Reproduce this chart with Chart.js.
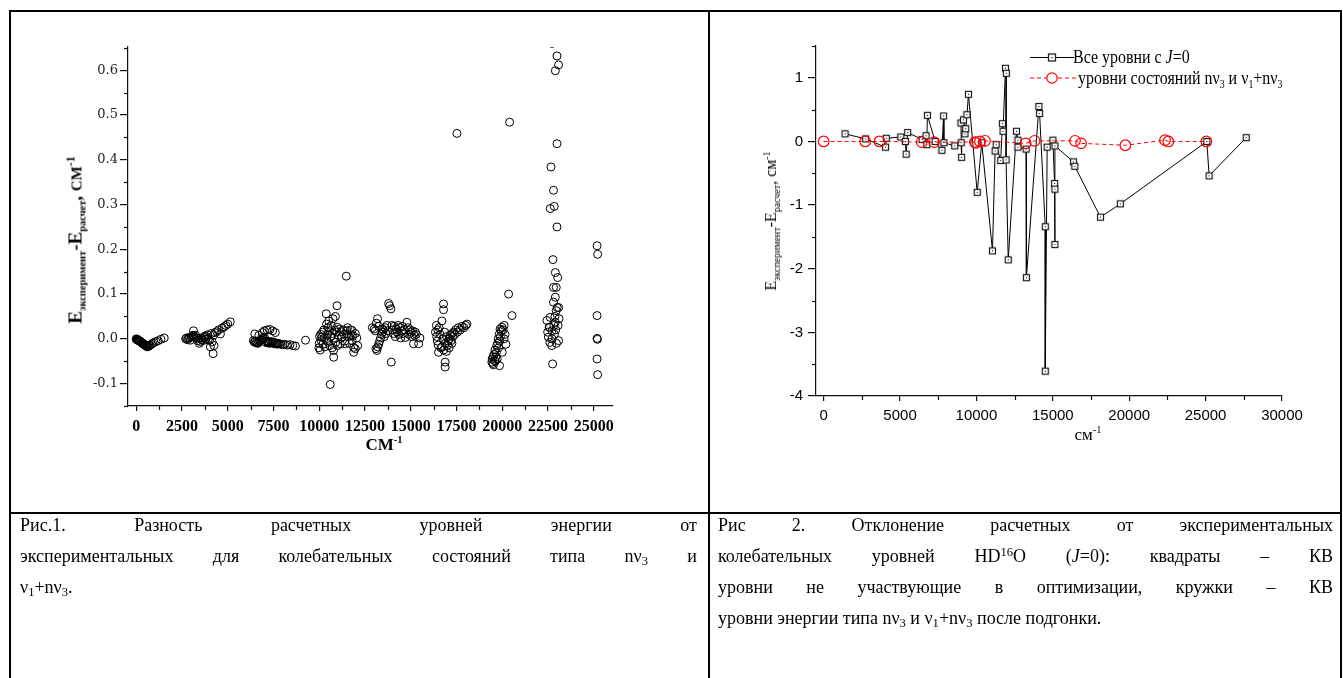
<!DOCTYPE html>
<html><head><meta charset="utf-8">
<script src="https://cdn.jsdelivr.net/npm/chart.js@4/dist/chart.umd.min.js"></script>
<style>
html,body{margin:0;padding:0;background:#fff;}
body{width:1343px;height:678px;position:relative;overflow:hidden;font-family:"Liberation Serif",serif;color:#000;}
.ln{position:absolute;background:#000;}
canvas{position:absolute;}
.t{position:absolute;white-space:nowrap;line-height:1;}
.t sub{font-size:55%;vertical-align:-0.4em;line-height:0;}
.t sup{font-size:62%;vertical-align:0.6em;line-height:0;}
.cap{position:absolute;font-size:18px;}
.cap div{height:31px;line-height:31px;white-space:nowrap;}
.cap div.j{text-align:justify;text-align-last:justify;white-space:normal;}
.cap sub{font-size:70%;vertical-align:-0.25em;line-height:0;}
.cap sup{font-size:70%;vertical-align:0.45em;line-height:0;}
.leg{position:absolute;white-space:nowrap;font-size:19px;line-height:1;transform-origin:0 50%;transform:scaleX(0.84);}
.leg sub{font-size:62%;vertical-align:-0.3em;line-height:0;}
svg{position:absolute;}
</style></head><body>

<!-- table borders -->
<div class="ln" style="left:9px;top:10px;width:1333px;height:2px"></div>
<div class="ln" style="left:9px;top:10px;width:2px;height:668px"></div>
<div class="ln" style="left:708px;top:10px;width:2px;height:668px"></div>
<div class="ln" style="left:1340px;top:10px;width:2px;height:668px"></div>
<div class="ln" style="left:9px;top:512px;width:1333px;height:2px"></div>

<canvas id="c1" width="696" height="500" style="left:11px;top:12px"></canvas>
<canvas id="c2" width="628" height="500" style="left:711px;top:12px"></canvas>

<!-- chart 1 axis titles -->
<div class="t" style="left:75px;top:240px;transform:translate(-50%,-50%) rotate(-90deg);font-weight:bold;font-size:19px;">E<sub>эксперимент</sub>-E<sub>расчет</sub>, <span style="font-size:15px">СМ</span><sup>-1</sup></div>
<div class="t" style="left:384px;top:444px;transform:translate(-50%,-50%);font-weight:bold;font-size:17px;">СМ<sup>-1</sup></div>

<!-- chart 2 axis titles -->
<div class="t" style="left:771px;top:221px;transform:translate(-50%,-50%) rotate(-90deg);font-size:16px;">E<sub style="font-size:62%">эксперимент</sub>-E<sub style="font-size:62%">расчет</sub>, см<sup>-1</sup></div>
<div class="t" style="left:1088px;top:434px;transform:translate(-50%,-50%);font-size:17px;">см<sup>-1</sup></div>

<!-- chart 2 legend -->
<svg style="left:1030px;top:51px" width="44" height="13">
  <line x1="0" y1="6.5" x2="44" y2="6.5" stroke="#000" stroke-width="1"/>
  <rect x="18.5" y="3" width="7" height="7" fill="#fff" stroke="#222" stroke-width="1.3"/>
  <rect x="21.5" y="6" width="1.2" height="1.2" fill="#000"/>
</svg>
<div class="leg" style="left:1073px;top:47px;">Все уровни с <i>J</i>=0</div>
<svg style="left:1030px;top:71px" width="48" height="14">
  <line x1="0" y1="7" x2="48" y2="7" stroke="#f00" stroke-width="1" stroke-dasharray="4,3"/>
  <circle cx="22" cy="7" r="5.2" fill="#fff" stroke="#f00" stroke-width="1.2"/>
</svg>
<div class="leg" style="left:1078px;top:68px;">уровни состояний nν<sub>3</sub> и ν<sub>1</sub>+nν<sub>3</sub></div>

<!-- captions -->
<div class="cap" style="left:20px;top:510px;width:677px;">
  <div class="j">Рис.1. Разность расчетных уровней энергии от</div>
  <div class="j">экспериментальных для колебательных состояний типа nν<sub>3</sub> и</div>
  <div>ν<sub>1</sub>+nν<sub>3</sub>.</div>
</div>
<div class="cap" style="left:718px;top:510px;width:615px;">
  <div class="j">Рис 2. Отклонение расчетных от экспериментальных</div>
  <div class="j">колебательных уровней HD<sup>16</sup>O (<i>J</i>=0): квадраты – КВ</div>
  <div class="j">уровни не участвующие в оптимизации, кружки – КВ</div>
  <div>уровни энергии типа nν<sub>3</sub> и ν<sub>1</sub>+nν<sub>3</sub> после подгонки.</div>
</div>

<script>
// ---------- Figure 1 data (E_exp - E_calc vs energy, cm^-1), grouped by polyad ----------
const grp1X = [0,20,40,60,80,100,120,140,160,180,200,230,260,290,320,350,380,410,440,480,520,560,600,650,700,760,830,900,980,1080,1200,1350,1530];
const grp1Y = [0,-0.001,-0.001,-0.002,-0.002,-0.003,-0.003,-0.004,-0.004,-0.005,-0.005,-0.006,-0.007,-0.008,-0.009,-0.01,-0.011,-0.012,-0.013,-0.014,-0.015,-0.016,-0.018,-0.017,-0.016,-0.014,-0.012,-0.01,-0.008,-0.006,-0.004,-0.001,0.002];

const grp2X = [2700,2750,2800,2850,2900,2950,3000,3050,3100,3130,3150,3200,3250,3300,3350,3400,3450,3500,3550,3600,3650,3700,3750,3800,3850,3900,3950,4000,4050,4100,4150,4200,4220,4250,4300,4400,4500,4600,4700,4800,4900,5000,5140];
const grp2Y = [0,0.002,-0.002,0.001,0.003,-0.003,0.004,0.005,0.008,0.018,0.006,0.003,0.008,0.002,-0.004,0.001,-0.01,-0.006,0.002,-0.002,-0.004,0.003,0.006,-0.001,0.005,0.009,0.001,-0.003,-0.018,0.012,-0.007,-0.033,0.008,-0.015,0.014,0.016,0.02,0.011,0.024,0.027,0.03,0.033,0.038];

const grp3X = [6400,6450,6500,6550,6600,6650,6700,6750,6800,6850,6900,6950,7000,7050,7100,7150,7200,7250,7300,7350,7400,7450,7500,7550,7600,7650,7700,7750,7800,7900,8000,8100,8250,8400,8550,8700,6480,6700,6900,7000,7150,7300,7450,7600,9250];
const grp3Y = [-0.004,-0.007,-0.006,-0.009,-0.008,-0.01,-0.007,-0.005,-0.004,-0.002,0,0.002,0.004,-0.006,-0.008,-0.005,-0.009,-0.007,-0.01,-0.006,-0.008,-0.009,-0.007,-0.011,-0.009,-0.01,-0.012,-0.01,-0.011,-0.012,-0.013,-0.012,-0.014,-0.013,-0.015,-0.016,0.011,0.008,0.014,0.018,0.02,0.021,0.018,0.014,-0.003];

const grp4X = [9980,10000,10020,10050,10080,10100,10150,10180,10200,10250,10280,10300,10380,10400,10420,10450,10480,10500,10520,10550,10580,10600,10620,10650,10700,10720,10750,10780,10790,10800,10850,10880,10900,10950,10970,10980,11000,11050,11100,11150,11200,11240,11300,11350,11400,11420,11475,11500,11515,11550,11600,11650,11700,11750,11790,11790,11840,11880,11880,11970,11970,12050,12100];
const grp4Y = [-0.02,-0.01,0.005,-0.025,0.01,-0.004,0.004,0.015,-0.012,0.02,0.002,-0.018,0.056,0.033,-0.004,0.01,0.025,-0.008,0.04,0.018,-0.015,-0.102,0.005,0.03,-0.02,0.012,0.045,-0.026,-0.041,0.002,0.02,0.05,-0.008,0.015,0.074,0.026,-0.015,0.008,0.022,-0.011,0.016,0.004,0.02,0.01,-0.005,-0.011,0.14,0.018,0.011,0.025,0.005,-0.01,0.02,0.008,0.019,-0.004,0.007,-0.019,-0.03,-0.022,0.012,0.002,-0.015];

const grp5X = [12900,13000,13060,13100,13120,13150,13185,13200,13250,13250,13300,13350,13400,13450,13450,13500,13550,13600,13650,13700,13750,13790,13845,13920,13935,13970,14000,14050,14100,14150,14200,14250,14300,14350,14400,14450,14500,14550,14600,14650,14700,14790,14850,14900,14950,15000,15050,15100,15150,15200,15250,15300,15430,15500];
const grp5Y = [0.025,0.022,0.018,-0.022,0.035,-0.026,0.045,-0.018,-0.012,0.028,-0.005,0.002,0.01,0.015,0.022,0.02,0.005,0.025,0.012,0.03,0.018,0.079,0.074,0.067,-0.052,0.03,0.02,0.012,0.028,0.005,0.022,0.015,0.03,0.01,0.025,0.002,0.018,0.028,0.012,0.02,0.003,0.037,0.025,0.01,0.02,0.015,0.005,0.018,-0.011,0.008,0.015,0.01,-0.011,0.002];

const grp6X = [16350,16400,16420,16450,16480,16500,16520,16550,16600,16650,16700,16700,16750,16790,16790,16800,16850,16880,16880,16900,16950,16950,17000,17050,17100,17100,17150,17200,17250,17250,17300,17350,17400,17450,17525,17550,17600,17700,17800,17900,18000,18070];
const grp6Y = [0.015,0.03,0.005,-0.005,0.02,-0.014,-0.03,0.025,0.01,-0.02,0.04,-0.018,0.0,0.078,0.065,-0.025,0.015,-0.052,-0.063,-0.01,0.005,-0.028,-0.015,-0.005,0.0,-0.02,0.008,-0.004,0.012,-0.01,0.005,0.015,0.01,0.02,0.459,0.015,0.025,0.02,0.028,0.025,0.03,0.033];

const grp7X = [19430,19450,19480,19500,19520,19550,19580,19600,19620,19650,19680,19700,19720,19750,19780,19800,19830,19850,19850,19880,19900,19950,19980,20000,20050,20100,20100,20150,20200,20345,20400,20530];
const grp7Y = [-0.052,-0.045,-0.055,-0.04,-0.058,-0.035,-0.048,-0.025,-0.05,-0.04,-0.03,-0.015,-0.045,-0.01,0.0,-0.02,0.01,-0.005,-0.06,0.022,0.005,0.018,0.026,-0.03,0.02,0.03,0.0,0.01,-0.012,0.1,0.484,0.052];

const grp8X = [22440,22480,22520,22560,22585,22600,22620,22620,22660,22700,22710,22720,22720,22750,22770,22800,22800,22800,22820,22840,22850,22880,22900,22900,22900,22900,22920,22950,22950,22960,22990,22990,22990,23000,23030,23050,23075,23080,23080,23100];
const grp8Y = [0.041,0.015,0.004,0.026,0.026,-0.008,0.291,0.048,0.384,-0.015,0.018,0.66,0.0,-0.056,0.177,0.332,0.115,0.082,0.03,0.296,0.01,0.05,0.599,0.148,0.093,0.037,0.02,0.115,0.063,-0.01,0.632,0.436,0.25,0.07,0.137,0.03,0.612,0.07,-0.004,0.045];

const grp9X = [25180,25210,25180,25180,25200,25180,25210];
const grp9Y = [0.208,0.189,0.052,0.001,-0.001,-0.045,-0.08];

// Figure 1 axis ticks
const fig1XTicks = [0,2500,5000,7500,10000,12500,15000,17500,20000,22500,25000];
const fig1YTicks = [-0.1,0.0,0.1,0.2,0.3,0.4,0.5,0.6];

// ---------- Figure 2 data ----------
const allLevelsX = [1400,2750,4050,4100,5050,5350,5400,5500,6450,6700,6750,6790,7300,7740,7850,7870,8580,9000,9030,8990,9150,9250,9300,9380,9480,10050,10350,11050,11220,11290,11590,11700,11740,11900,11960,11940,12080,12620,12720,12720,13250,13270,14090,14135,14505,14505,14630,15005,15115,15135,15135,15140,16355,16440,18120,19420,25080,25230,27660];
const allLevelsY = [0.12,0.04,-0.09,0.05,0.07,0.0,-0.2,0.14,0.03,0.09,-0.05,0.41,0.0,-0.14,0.40,-0.02,-0.07,-0.02,-0.25,0.29,0.34,0.12,0.2,0.42,0.74,-0.80,-0.02,-1.72,-0.15,-0.05,-0.30,0.28,0.16,1.15,1.07,-0.29,-1.86,0.16,0.02,-0.09,-0.12,-2.14,0.55,0.44,-1.34,-3.61,-0.09,0.02,-0.66,-0.75,-1.62,-0.07,-0.32,-0.39,-1.19,-0.98,0.0,-0.54,0.06];
const fittedX = [0,2720,3660,6420,7230,9900,9960,10230,10560,13220,13810,16450,16850,19750,22340,22560,25050];
const fittedY = [0,0,0,-0.01,-0.01,-0.01,-0.02,0,0.01,-0.03,0.01,0.01,-0.03,-0.06,0.02,0,0];
const fig2XTicks = [0,5000,10000,15000,20000,25000,30000];
const fig2YTicks = [-4,-3,-2,-1,0,1];

// ---------- helpers ----------
const zip = (xs, ys) => xs.map((x, i) => ({x, y: ys[i]}));
const fig1Points = [].concat(
  zip(grp1X, grp1Y), zip(grp2X, grp2Y), zip(grp3X, grp3Y), zip(grp4X, grp4Y),
  zip(grp5X, grp5Y), zip(grp6X, grp6Y), zip(grp7X, grp7Y), zip(grp8X, grp8Y), zip(grp9X, grp9Y));

const minorTicks = {
  id: 'minorTicks',
  afterDraw(chart, args, o) {
    const g = chart.ctx;
    g.save();
    g.strokeStyle = o.color || '#000';
    g.lineWidth = o.width || 1;
    const xs = chart.scales.x, ys = chart.scales.y;
    if (o.x) {
      const n0 = Math.ceil(xs.min / o.x.step), n1 = Math.floor(xs.max / o.x.step);
      for (let n = n0; n <= n1; n++) {
        const v = n * o.x.step;
        if (o.x.skipMajor && Math.abs(v / o.x.major - Math.round(v / o.x.major)) < 1e-6) continue;
        const p = Math.round(xs.getPixelForValue(v)) + 0.5;
        g.beginPath(); g.moveTo(p, xs.top); g.lineTo(p, xs.top + o.x.len); g.stroke();
      }
    }
    if (o.y) {
      const n0 = Math.ceil(ys.min / o.y.step - 1e-9), n1 = Math.floor(ys.max / o.y.step + 1e-9);
      for (let n = n0; n <= n1; n++) {
        const v = n * o.y.step;
        if (Math.abs(v / o.y.major - Math.round(v / o.y.major)) < 1e-6) continue;
        const p = Math.round(ys.getPixelForValue(v)) + 0.5;
        g.beginPath(); g.moveTo(ys.right, p); g.lineTo(ys.right - o.y.len, p); g.stroke();
      }
    }
    g.restore();
  }
};

function squareMarker() {
  const c = document.createElement('canvas');
  c.width = 9; c.height = 9;
  const g = c.getContext('2d');
  g.fillStyle = '#fff'; g.fillRect(1.5, 1.5, 6, 6);
  g.strokeStyle = '#1a1a1a'; g.lineWidth = 1.2; g.strokeRect(1.5, 1.5, 6, 6);
  g.fillStyle = '#000'; g.fillRect(4, 4, 1, 1);
  return c;
}

// ---------- Figure 1 ----------
new Chart(document.getElementById('c1'), {
  type: 'scatter',
  data: { datasets: [{
    data: fig1Points,
    pointRadius: 4, pointHoverRadius: 4, pointBorderWidth: 1,
    pointBorderColor: '#000', pointBackgroundColor: 'rgba(0,0,0,0)', showLine: false
  }]},
  options: {
    responsive: false, animation: false, events: [],
    layout: { padding: { top: 35, right: 94, left: 0, bottom: 0 } },
    plugins: { legend: { display: false }, tooltip: { enabled: false },
      minorTicks: { color: '#111', width: 1.2,
        x: { step: 1250, major: 2500, len: 4, skipMajor: true },
        y: { step: 0.05, major: 0.1, len: 4 } } },
    scales: {
      x: { type: 'linear', min: -450, max: 26050, bounds: 'data',
        afterFit(s) { s.height = 106; },
        afterBuildTicks(s) { s.ticks = fig1XTicks.map(v => ({value: v})); },
        border: { display: true, color: '#111', width: 1.2 },
        grid: { drawOnChartArea: false, drawTicks: true, tickLength: 5, color: '#111', lineWidth: 1.2 },
        ticks: { autoSkip: false, maxRotation: 0, padding: 6, color: '#000',
          font: { family: 'Liberation Serif', weight: 'bold', size: 16 }, callback: v => String(v) } },
      y: { type: 'linear', min: -0.15, max: 0.652, bounds: 'data',
        afterFit(s) { s.width = 117; },
        afterBuildTicks(s) { s.ticks = fig1YTicks.map(v => ({value: v})); },
        border: { display: true, color: '#111', width: 1.2 },
        grid: { drawOnChartArea: false, drawTicks: true, tickLength: 8, color: '#111', lineWidth: 1.2 },
        ticks: { autoSkip: false, padding: 2, color: '#222',
          font: { family: 'DejaVu Serif', size: 13 }, callback: v => Number(v).toFixed(1) } }
    }
  },
  plugins: [minorTicks]
});

// ---------- Figure 2 ----------
new Chart(document.getElementById('c2'), {
  type: 'line',
  data: { datasets: [
    { label: 'уровни состояний nν3 и ν1+nν3', data: zip(fittedX, fittedY),
      borderColor: '#f00', borderWidth: 1, borderDash: [4, 3],
      pointStyle: 'circle', pointRadius: 5.3, pointHoverRadius: 5.3, pointBorderWidth: 1.2,
      pointBorderColor: '#f00', pointBackgroundColor: 'rgba(255,255,255,0)', tension: 0 },
    { label: 'Все уровни с J=0', data: zip(allLevelsX, allLevelsY),
      borderColor: '#000', borderWidth: 1,
      pointStyle: squareMarker(), pointRadius: 4, pointHoverRadius: 4, tension: 0 }
  ]},
  options: {
    responsive: false, animation: false, events: [],
    layout: { padding: { top: 34, right: 57, left: 0, bottom: 0 } },
    plugins: { legend: { display: false }, tooltip: { enabled: false },
      minorTicks: { color: '#111', width: 1.2,
        x: { step: 2500, major: 5000, len: 4, skipMajor: true },
        y: { step: 0.5, major: 1, len: 4 } } },
    scales: {
      x: { type: 'linear', min: -500, max: 30000, bounds: 'data',
        afterFit(s) { s.height = 116; },
        afterBuildTicks(s) { s.ticks = fig2XTicks.map(v => ({value: v})); },
        border: { display: true, color: '#111', width: 1.2 },
        grid: { drawOnChartArea: false, drawTicks: true, tickLength: 5, color: '#111', lineWidth: 1.2 },
        ticks: { autoSkip: false, maxRotation: 0, padding: 6, color: '#000',
          font: { family: 'Liberation Sans', size: 15 }, callback: v => String(v) } },
      y: { type: 'linear', min: -4, max: 1.5, bounds: 'data',
        afterFit(s) { s.width = 105; },
        afterBuildTicks(s) { s.ticks = fig2YTicks.map(v => ({value: v})); },
        border: { display: true, color: '#111', width: 1.2 },
        grid: { drawOnChartArea: false, drawTicks: true, tickLength: 8, color: '#111', lineWidth: 1.2 },
        ticks: { autoSkip: false, padding: 5, color: '#000',
          font: { family: 'Liberation Sans', size: 15 }, callback: v => String(v) } }
    }
  },
  plugins: [minorTicks]
});
</script>
</body></html>
